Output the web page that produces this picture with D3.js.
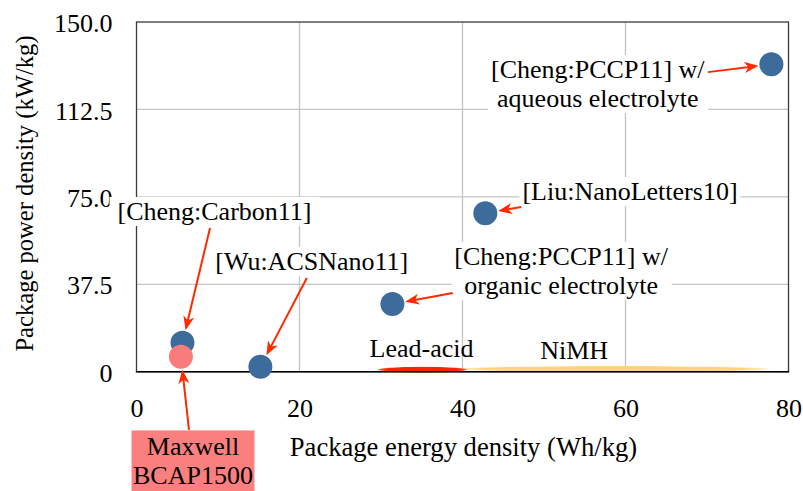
<!DOCTYPE html>
<html>
<head>
<meta charset="utf-8">
<script src="https://cdn.jsdelivr.net/npm/d3@7"></script>
<style>
  html, body { margin: 0; padding: 0; background: #fff; }
  svg { display: block; font-family: "Liberation Serif", "Times New Roman", serif; }
</style>
</head>
<body>
<svg id="chart" width="803" height="491"></svg>
<script>
// ---------------- data ----------------
const xTickValues = [0, 20, 40, 60, 80];
const xTickLabels = ["0", "20", "40", "60", "80"];
const yTickValues = [0, 37.5, 75, 112.5, 150];
const yTickLabels = ["0", "37.5", "75.0", "112.5", "150.0"];

const pointNames  = ["Cheng:PCCP11 aqueous", "Liu:NanoLetters10", "Cheng:PCCP11 organic", "Wu:ACSNano11", "Cheng:Carbon11", "Maxwell BCAP1500"];
const pointEnergy = [77.9, 42.8, 31.4, 15.2, 5.64, 5.45];   // Wh/kg
const pointPower  = [131.9, 68.0, 29.0, 2.1, 12.4, 6.4];    // kW/kg
const pointGroup  = ["research", "research", "research", "research", "research", "commercial"];

const batteryNames  = ["NiMH", "Lead-acid"];
const batteryEnergy = [[39.6, 77.6], [29.6, 40.6]];
const batteryPower  = [[-0.13, 2.45], [-0.3, 2.1]];

// annotation layout (data coordinates)
const annotations = [
  { lines: ["[Cheng:PCCP11] w/", "aqueous electrolyte"], x: 56.6, y: 126.0, from: [70.1, 128.5], target: 0, box: "white", pad: 3 },
  { lines: ["[Liu:NanoLetters10]"], x: 60.55, y: 73.7, from: [47.2, 70.6], target: 1, box: "white", pad: 3 },
  { lines: ["[Cheng:PCCP11] w/", "organic electrolyte"], x: 52.1, y: 45.8, from: [38.8, 33.8], target: 2, box: "white", pad: 3 },
  { lines: ["[Wu:ACSNano11]"], x: 21.5, y: 43.6, from: [20.9, 40.2], target: 3, box: "white", pad: 3 },
  { lines: ["[Cheng:Carbon11]"], x: 9.57, y: 65.1, from: [9.02, 61.6], target: 4, box: "white", pad: 8 },
  { lines: ["Maxwell", "BCAP1500"], x: 6.93, y: -35.7, from: [6.44, -25.0], target: 5, box: "salmon", pad: 1.5 },
  { lines: ["Lead-acid"], x: 34.97, y: 6.3, target: null, box: null },
  { lines: ["NiMH"], x: 53.7, y: 5.45, target: null, box: null }
];

// ---------------- layout ----------------
const W = 803, H = 491;
const margin = { left: 136.5, right: 14.5, top: 22, bottom: 119.3 };
const FS = 26;
const colors = { research: "#3d6b9b", commercial: "#f87c7c" };

const svg = d3.select("#chart");
const x = d3.scaleLinear().domain([0, 80]).range([margin.left, W - margin.right]);
const y = d3.scaleLinear().domain([0, 150]).range([H - margin.bottom, margin.top]);

const defs = svg.append("defs");
const gRed = defs.append("radialGradient").attr("id", "gLead");
gRed.append("stop").attr("offset", "0%").attr("stop-color", "#ff1e00");
gRed.append("stop").attr("offset", "85%").attr("stop-color", "#ff2600");
gRed.append("stop").attr("offset", "100%").attr("stop-color", "#ff4a30").attr("stop-opacity", 0.7);
const gY = defs.append("radialGradient").attr("id", "gNiMH");
gY.append("stop").attr("offset", "0%").attr("stop-color", "#ffd27c");
gY.append("stop").attr("offset", "85%").attr("stop-color", "#ffd480");
gY.append("stop").attr("offset", "100%").attr("stop-color", "#ffe0a8").attr("stop-opacity", 0.6);

defs.append("marker")
  .attr("id", "arrow").attr("viewBox", "0 -6 14 12")
  .attr("refX", 11).attr("refY", 0)
  .attr("markerWidth", 14).attr("markerHeight", 12)
  .attr("markerUnits", "userSpaceOnUse").attr("orient", "auto")
  .append("path").attr("d", "M0,-5.5 L14,0 L0,5.5 L4,0 Z").attr("fill", "#ff2a00");

// grid
const grid = svg.append("g");
grid.selectAll("line.gx").data(xTickValues.slice(1, -1)).join("line")
  .attr("x1", d => x(d)).attr("x2", d => x(d))
  .attr("y1", y(0)).attr("y2", y(150))
  .attr("stroke", "#c4c4c4").attr("stroke-width", 1.3);
grid.selectAll("line.gy").data(yTickValues.slice(1, -1)).join("line")
  .attr("y1", d => y(d)).attr("y2", d => y(d))
  .attr("x1", x(0)).attr("x2", x(80))
  .attr("stroke", "#c4c4c4").attr("stroke-width", 1.3);

// axes
const xAxis = d3.axisBottom(x).tickValues(xTickValues)
  .tickFormat((d, i) => xTickLabels[i]).tickSize(0).tickPadding(26.5);
const gx = svg.append("g").attr("transform", `translate(0,${y(0)})`).call(xAxis);
gx.select(".domain").remove();
gx.selectAll("text").attr("font-size", FS).attr("fill", "#000")
  .attr("font-family", "Liberation Serif");

const yAxis = d3.axisLeft(y).tickValues(yTickValues)
  .tickFormat((d, i) => yTickLabels[i]).tickSize(0).tickPadding(24);
const gy = svg.append("g").attr("transform", `translate(${x(0)},0)`).call(yAxis);
gy.select(".domain").remove();
gy.selectAll("text").attr("font-size", FS).attr("fill", "#000").attr("dy", "0.37em")
  .attr("font-family", "Liberation Serif");

// axis titles
svg.append("text")
  .attr("x", (x(0) + x(80)) / 2 + 1).attr("y", 456)
  .attr("text-anchor", "middle").attr("font-size", 26.6)
  .text("Package energy density (Wh/kg)");
svg.append("text")
  .attr("transform", `translate(33,193.5) rotate(-90)`)
  .attr("text-anchor", "middle").attr("font-size", 24.6)
  .text("Package power density (kW/kg)");

// battery regions
const battIdx = d3.range(batteryNames.length);
svg.append("g").selectAll("ellipse").data(battIdx).join("ellipse")
  .attr("cx", i => (x(batteryEnergy[i][0]) + x(batteryEnergy[i][1])) / 2)
  .attr("cy", i => (y(batteryPower[i][0]) + y(batteryPower[i][1])) / 2)
  .attr("rx", i => Math.abs(x(batteryEnergy[i][1]) - x(batteryEnergy[i][0])) / 2)
  .attr("ry", i => Math.abs(y(batteryPower[i][1]) - y(batteryPower[i][0])) / 2)
  .attr("fill", i => batteryNames[i] === "NiMH" ? "url(#gNiMH)" : "url(#gLead)");

// frame
svg.append("rect")
  .attr("x", x(0)).attr("y", y(150))
  .attr("width", x(80) - x(0)).attr("height", y(0) - y(150))
  .attr("fill", "none").attr("stroke", "#3a3a3a").attr("stroke-width", 1.3);
svg.append("line")
  .attr("x1", x(0) - 0.6).attr("x2", x(80) + 0.6).attr("y1", y(0)).attr("y2", y(0))
  .attr("stroke", "#000").attr("stroke-width", 1.6);

// points
const R = 12;
const ptIdx = d3.range(pointNames.length);
svg.append("g").selectAll("circle").data(ptIdx).join("circle")
  .attr("cx", i => x(pointEnergy[i])).attr("cy", i => y(pointPower[i]))
  .attr("r", R).attr("fill", i => colors[pointGroup[i]]);

// annotations
const LH = 29;
const annG = svg.append("g");
annotations.forEach(a => {
  const g = annG.append("g");
  const t = g.append("text")
    .attr("x", x(a.x)).attr("y", y(a.y))
    .attr("text-anchor", "middle").attr("font-size", FS).attr("fill", "#000");
  a.lines.forEach((ln, k) => {
    t.append("tspan").attr("x", x(a.x)).attr("dy", k === 0 ? 0 : LH).text(ln);
  });
  if (a.box) {
    const bb = t.node().getBBox();
    const px = a.pad, py = a.box === "white" ? 0 : 1.5;
    g.insert("rect", "text")
      .attr("x", bb.x - px).attr("y", bb.y - py)
      .attr("width", bb.width + 2 * px).attr("height", bb.height + 2 * py)
      .attr("fill", a.box === "white" ? "#fff" : "#fa7f7f");
  }
});

// arrows
const arrowG = svg.append("g");
annotations.filter(a => a.target !== null).forEach(a => {
  const sx = x(a.from[0]), sy = y(a.from[1]);
  const cx = x(pointEnergy[a.target]), cy = y(pointPower[a.target]);
  const dx = sx - cx, dy = sy - cy, len = Math.hypot(dx, dy);
  const off = R + 4;
  const ex = cx + dx / len * off, ey = cy + dy / len * off;
  arrowG.append("line")
    .attr("x1", sx).attr("y1", sy).attr("x2", ex).attr("y2", ey)
    .attr("stroke", "#ff2a00").attr("stroke-width", 2)
    .attr("marker-end", "url(#arrow)");
});
</script>
</body>
</html>
